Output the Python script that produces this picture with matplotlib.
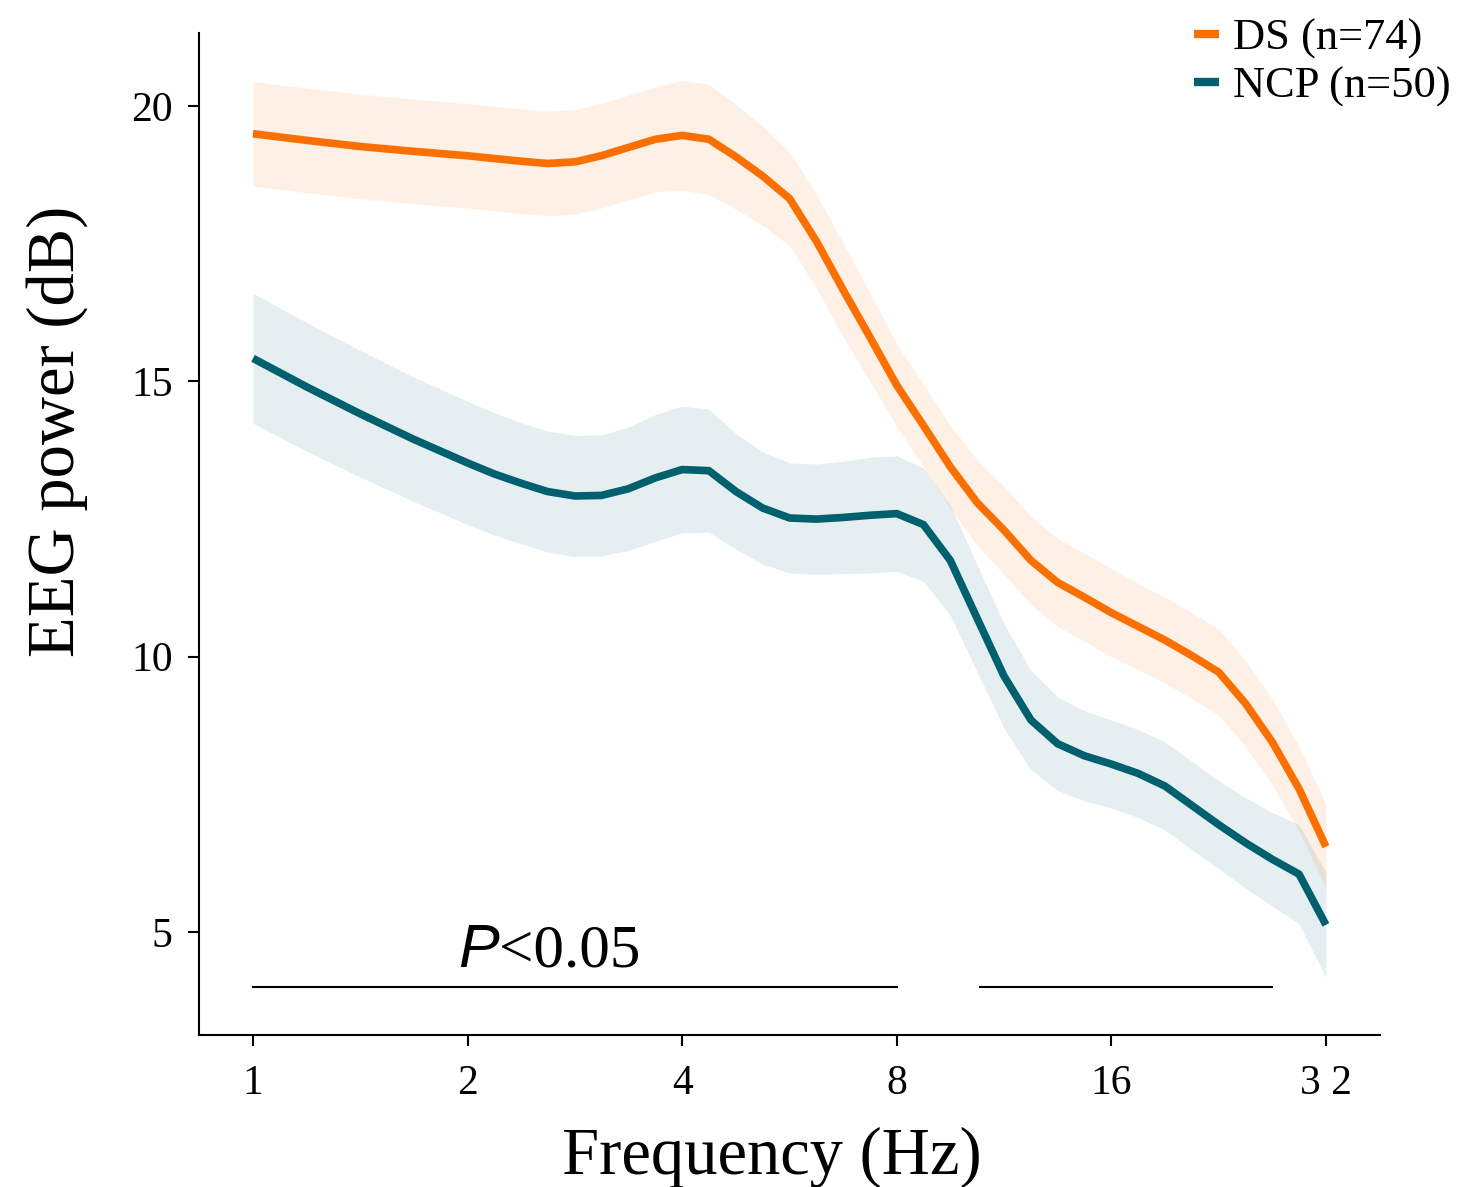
import matplotlib
matplotlib.use("Agg")
import matplotlib.pyplot as plt
import numpy as np

plt.rcParams['font.family'] = ['Liberation Serif', 'DejaVu Serif']

freqs = [1.0, 1.19, 1.41, 1.68, 2.0, 2.18, 2.38, 2.59, 2.83, 3.08, 3.36, 3.67,
         4.0, 4.36, 4.76, 5.19, 5.66, 6.17, 6.73, 7.34, 8.0, 8.72, 9.51, 10.37,
         11.31, 12.34, 13.45, 14.67, 16.0, 17.45, 19.03, 20.75, 22.63, 24.68,
         26.91, 29.34, 32.0]

ds_mean = [19.50, 19.38, 19.27, 19.18, 19.10, 19.05, 19.00, 18.96, 18.99, 19.10, 19.25, 19.40,
           19.47, 19.40, 19.08, 18.73, 18.32, 17.55, 16.66, 15.80, 14.93, 14.20, 13.45, 12.80,
           12.30, 11.75, 11.35, 11.08, 10.80, 10.55, 10.30, 10.02, 9.72, 9.15,
           8.45, 7.60, 6.55]
ds_err = [0.95, 0.95, 0.95, 0.95, 0.95, 0.95, 0.95, 0.95, 0.95, 0.95, 0.95, 0.95,
          1.0, 1.0, 0.95, 0.9, 0.85, 0.85, 0.85, 0.8, 0.75, 0.75, 0.75, 0.78,
          0.8, 0.8, 0.8, 0.8, 0.8, 0.78, 0.78, 0.78, 0.78, 0.78,
          0.78, 0.77, 0.77]

ncp_mean = [15.42, 14.90, 14.42, 13.95, 13.52, 13.32, 13.15, 13.00, 12.92, 12.93, 13.05, 13.25,
            13.40, 13.38, 13.00, 12.70, 12.52, 12.50, 12.53, 12.57, 12.60, 12.40, 11.75, 10.70,
            9.65, 8.85, 8.42, 8.20, 8.05, 7.88, 7.65, 7.30, 6.95, 6.62,
            6.32, 6.05, 5.13]
ncp_err = [1.18, 1.17, 1.15, 1.13, 1.12, 1.11, 1.1, 1.1, 1.1, 1.1, 1.12, 1.15,
           1.15, 1.12, 1.05, 1.02, 1.0, 1.0, 1.02, 1.05, 1.05, 1.03, 1.0, 0.97,
           0.95, 0.9, 0.85, 0.82, 0.8, 0.8, 0.8, 0.8, 0.8, 0.82,
           0.85, 0.9, 0.95]

groups = ["DS (n=74)", "NCP (n=50)"]
colors = ["#FA7000", "#00606E"]

sig_ranges = [(1.0, 8.0), (10.47, 26.9)]
sig_y = 4.0

xticks = [1, 2, 4, 8, 16, 32]
xticklabels = ["1", "2", "4", "8", "16", "3 2"]
yticks = [5, 10, 15, 20]

fig = plt.figure(figsize=(14.71, 11.87), dpi=100)
ax = fig.add_axes([0.1353, 0.1281, 0.8028, 0.8441])

f = np.array(freqs)
for mean, err, lab, col in [(ds_mean, ds_err, groups[0], colors[0]),
                            (ncp_mean, ncp_err, groups[1], colors[1])]:
    m = np.array(mean)
    e = np.array(err)
    ax.fill_between(f, m - e, m + e, color=col, alpha=0.1, linewidth=0)
    ax.plot(f, m, color=col, linewidth=5.5, label=lab,
            solid_capstyle='butt', solid_joinstyle='round')

for a, b in sig_ranges:
    ax.plot([a, b], [sig_y, sig_y], color='black', linewidth=1.5)

ax.text(2.213, 4.365, "P", family='Liberation Sans', style='italic', fontsize=44,
        ha='right', va='baseline')
ax.text(2.213, 4.365, "<0.05", fontsize=44, ha='left', va='baseline')

ax.set_xscale('log', base=2)
ax.set_xlim(0.84, 38.1)
ax.set_ylim(3.13, 21.33)
ax.set_xticks(xticks)
ax.set_xticklabels(xticklabels)
ax.minorticks_off()
ax.set_yticks(yticks)

for s in ['top', 'right']:
    ax.spines[s].set_visible(False)
for s in ['left', 'bottom']:
    ax.spines[s].set_linewidth(1.5)
ax.tick_params(axis='both', direction='out', length=8, width=1.5, labelsize=30)
ax.tick_params(axis='x', pad=13)
ax.tick_params(axis='y', pad=11)

ax.set_xlabel("Frequency (Hz)", fontsize=48)
ax.set_ylabel("EEG power (dB)", fontsize=48)
ax.xaxis.set_label_coords(0.485, -0.091)
ax.yaxis.set_label_coords(-0.094, 0.602)

leg = fig.legend(loc='upper left', bbox_to_anchor=(1190 / 1471, 1 - 14 / 1187),
                 frameon=False, fontsize=32, handlelength=0.56, handletextpad=0.3,
                 labelspacing=0.16, borderpad=0.1, borderaxespad=0)
for h in leg.get_lines():
    h.set_linewidth(6)

fig.savefig("out.png", dpi=100)
